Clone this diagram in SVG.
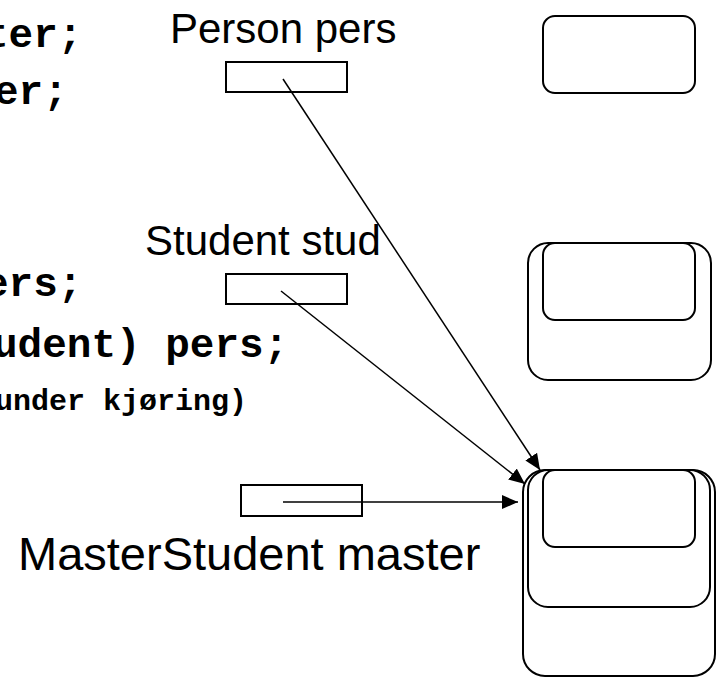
<svg xmlns="http://www.w3.org/2000/svg" width="717" height="679" viewBox="0 0 717 679">
<style>
.code{font-family:"Liberation Mono","Courier New",monospace;font-weight:bold;fill:#000}
.lbl{font-family:"Liberation Sans",Arial,sans-serif;fill:#000}
.var{fill:#fff;stroke:#000;stroke-width:2}
.obj{fill:none;stroke:#000;stroke-width:2}
.conn{stroke:#000;stroke-width:1.5;fill:none;marker-end:url(#ah)}
</style>
<defs>
<marker id="ah" markerUnits="userSpaceOnUse" markerWidth="17" markerHeight="14" refX="16" refY="7" orient="auto">
<path d="M0,0 L16,7 L0,14 z" fill="#000"/>
</marker>
</defs>
<rect width="717" height="679" fill="#fff"/>
<g id="code">
<text class="code" x="-16" y="47" font-size="41">ter;</text>
<text class="code" x="-6" y="104" font-size="41">er;</text>
<text class="code" x="-16" y="296" font-size="41">ers;</text>
<text class="code" x="-7" y="357" font-size="41">udent) pers;</text>
<text class="code" x="-5" y="410" font-size="30">under kjøring)</text>
</g>
<g id="person-var">
<text class="lbl" x="170" y="43" font-size="42">Person pers</text>
<rect class="var" x="226" y="62" width="121" height="30"/>
</g>
<g id="student-var">
<text class="lbl" x="145" y="255" font-size="42">Student stud</text>
<rect class="var" x="226" y="274" width="121" height="30"/>
</g>
<g id="master-var">
<rect class="var" x="241" y="485" width="121" height="31"/>
<text class="lbl" x="18" y="570" font-size="47">MasterStudent master</text>
</g>
<g id="person-obj">
<rect class="obj" x="543" y="16" width="152" height="77" rx="12"/>
</g>
<g id="student-obj">
<rect class="obj" x="528" y="243" width="183" height="137" rx="20"/>
<rect class="obj" x="543" y="243" width="152" height="77" rx="12"/>
</g>
<g id="master-obj">
<rect class="obj" x="523" y="470" width="192" height="206" rx="22"/>
<rect class="obj" x="528" y="470" width="182" height="137" rx="20"/>
<rect class="obj" x="543" y="470" width="152" height="77" rx="12"/>
</g>
<g id="connectors">
<line class="conn" x1="283" y1="79" x2="540" y2="470"/>
<line class="conn" x1="281" y1="291" x2="525" y2="484"/>
<line class="conn" x1="283" y1="502" x2="518" y2="502"/>
</g>
</svg>
